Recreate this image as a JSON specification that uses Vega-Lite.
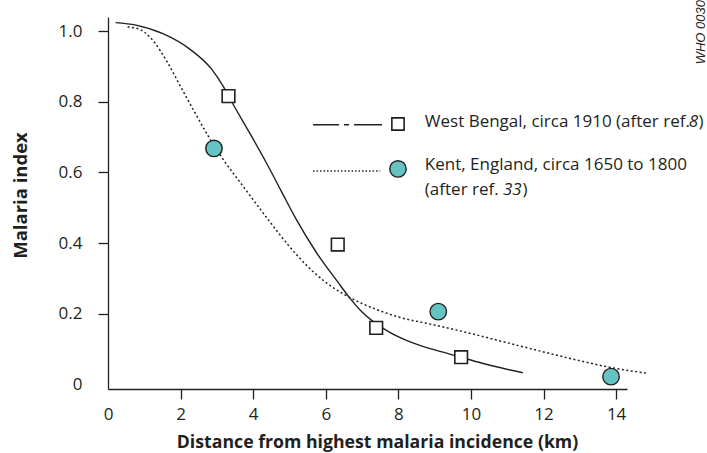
{
  "$schema": "https://vega.github.io/schema/vega-lite/v6.json",
  "autosize": {"type": "none"},
  "padding": {"left": 108, "top": 17, "right": 80, "bottom": 64},
  "width": 519,
  "height": 372,
  "config": {
    "view": {"stroke": null},
    "font": "Open Sans"
  },
  "datasets": {
    "bengalCurve": [
      {"km": 0.21, "index": 1.024}, {"km": 0.77, "index": 1.017}, {"km": 1.53, "index": 0.992},
      {"km": 2.28, "index": 0.947}, {"km": 2.85, "index": 0.893}, {"km": 3.18, "index": 0.843},
      {"km": 3.42, "index": 0.798}, {"km": 3.89, "index": 0.714}, {"km": 4.37, "index": 0.626},
      {"km": 4.77, "index": 0.548}, {"km": 5.16, "index": 0.472}, {"km": 5.75, "index": 0.372},
      {"km": 6.33, "index": 0.29}, {"km": 6.62, "index": 0.25}, {"km": 7.0, "index": 0.205},
      {"km": 7.67, "index": 0.153}, {"km": 8.24, "index": 0.124}, {"km": 8.61, "index": 0.11},
      {"km": 9.2, "index": 0.092}, {"km": 9.73, "index": 0.077}, {"km": 10.42, "index": 0.057},
      {"km": 11.43, "index": 0.033}
    ],
    "kentCurve": [
      {"km": 0.54, "index": 1.012}, {"km": 0.87, "index": 1.005}, {"km": 1.25, "index": 0.972},
      {"km": 1.63, "index": 0.913}, {"km": 2.0, "index": 0.843}, {"km": 2.38, "index": 0.772},
      {"km": 2.75, "index": 0.705}, {"km": 3.22, "index": 0.63}, {"km": 3.7, "index": 0.564},
      {"km": 4.38, "index": 0.471}, {"km": 4.97, "index": 0.394}, {"km": 5.5, "index": 0.334},
      {"km": 6.0, "index": 0.289}, {"km": 6.5, "index": 0.255}, {"km": 7.0, "index": 0.229},
      {"km": 7.5, "index": 0.208}, {"km": 8.0, "index": 0.191}, {"km": 9.0, "index": 0.168},
      {"km": 10.0, "index": 0.144}, {"km": 11.0, "index": 0.118}, {"km": 12.0, "index": 0.092},
      {"km": 13.0, "index": 0.067}, {"km": 14.0, "index": 0.045}, {"km": 14.89, "index": 0.031}
    ],
    "bengalPts": [
      {"km": 3.32, "index": 0.816}, {"km": 6.33, "index": 0.396},
      {"km": 7.39, "index": 0.16}, {"km": 9.73, "index": 0.077}
    ],
    "kentPts": [
      {"km": 2.92, "index": 0.668}, {"km": 9.1, "index": 0.206}, {"km": 13.86, "index": 0.022}
    ]
  },
  "layer": [
    {
      "data": {"name": "bengalCurve"},
      "mark": {"type": "line", "color": "#231f20", "strokeWidth": 1.4, "interpolate": "monotone"},
      "encoding": {
        "x": {
          "field": "km", "type": "quantitative",
          "scale": {"domain": [0, 14.3], "nice": false, "zero": false},
          "axis": {
            "title": "Distance from highest malaria incidence (km)",
            "values": [0, 2, 4, 6, 8, 10, 12, 14],
            "grid": false,
            "domainColor": "#231f20", "domainWidth": 1.3,
            "tickColor": "#231f20", "tickWidth": 1.3, "tickSize": 10,
            "tickOpacity": {"condition": {"test": "datum.value === 0", "value": 0}, "value": 1},
            "labelFont": "Open Sans", "labelFontSize": 17, "labelColor": "#231f20", "labelPadding": 7,
            "labelFlush": false,
            "titleFont": "Open Sans", "titleFontSize": 17.7, "titleFontWeight": "bold", "titleColor": "#231f20",
            "titleX": 269, "titleY": 53, "titleBaseline": "middle", "titleAlign": "center"
          }
        },
        "y": {
          "field": "index", "type": "quantitative",
          "scale": {"domain": [-0.013, 1.04], "nice": false, "zero": false},
          "axis": {
            "title": "Malaria index",
            "values": [0, 0.2, 0.4, 0.6, 0.8, 1.0],
            "labelExpr": "datum.value === 0 ? '0' : format(datum.value, '.1f')",
            "grid": false,
            "domainColor": "#231f20", "domainWidth": 1.3,
            "tickColor": "#231f20", "tickWidth": 1.3, "tickSize": 10,
            "tickOpacity": {"condition": {"test": "datum.value === 0", "value": 0}, "value": 1},
            "labelFont": "Open Sans", "labelFontSize": 17, "labelColor": "#231f20", "labelPadding": 16,
            "labelFlush": false,
            "titleFont": "Open Sans", "titleFontSize": 18.5, "titleFontWeight": "bold", "titleColor": "#231f20",
            "titleX": -88, "titleY": 178, "titleBaseline": "middle", "titleAlign": "center", "titleAngle": -90
          }
        }
      }
    },
    {
      "data": {"name": "kentCurve"},
      "mark": {"type": "line", "color": "#231f20", "strokeWidth": 1.5, "strokeDash": [2, 2.5], "interpolate": "monotone"},
      "encoding": {
        "x": {"field": "km", "type": "quantitative"},
        "y": {"field": "index", "type": "quantitative"}
      }
    },
    {
      "data": {"name": "bengalPts"},
      "mark": {"type": "point", "shape": "square", "size": 160, "filled": true, "fill": "#ffffff", "stroke": "#231f20", "strokeWidth": 1.6, "opacity": 1},
      "encoding": {
        "x": {"field": "km", "type": "quantitative"},
        "y": {"field": "index", "type": "quantitative"}
      }
    },
    {
      "data": {"name": "kentPts"},
      "mark": {"type": "point", "shape": "circle", "size": 270, "filled": true, "fill": "#66c3c3", "stroke": "#231f20", "strokeWidth": 1.4, "opacity": 1},
      "encoding": {
        "x": {"field": "km", "type": "quantitative"},
        "y": {"field": "index", "type": "quantitative"}
      }
    },
    {
      "data": {"values": [{"series": "West Bengal"}]},
      "mark": {"type": "rule", "color": "#231f20", "strokeWidth": 1.4, "strokeDash": [26, 5, 5, 5, 30]},
      "encoding": {
        "x": {"datum": 5.65, "type": "quantitative"},
        "x2": {"datum": 7.55},
        "y": {"datum": 0.735, "type": "quantitative"}
      }
    },
    {
      "data": {"values": [{"series": "West Bengal"}]},
      "mark": {"type": "point", "shape": "square", "size": 150, "filled": true, "fill": "#ffffff", "stroke": "#231f20", "strokeWidth": 1.6, "opacity": 1},
      "encoding": {
        "x": {"datum": 7.99, "type": "quantitative"},
        "y": {"datum": 0.737, "type": "quantitative"}
      }
    },
    {
      "data": {"values": [{"series": "West Bengal"}]},
      "mark": {"type": "text", "text": "West Bengal, circa 1910 (after ref.", "align": "left", "baseline": "middle", "fontSize": 17, "color": "#231f20"},
      "encoding": {
        "x": {"datum": 8.73, "type": "quantitative"},
        "y": {"datum": 0.742, "type": "quantitative"}
      }
    },
    {
      "data": {"values": [{"series": "West Bengal"}]},
      "mark": {"type": "text", "text": "8", "align": "left", "baseline": "middle", "fontSize": 17, "fontStyle": "italic", "color": "#231f20"},
      "encoding": {
        "x": {"datum": 16.0, "type": "quantitative"},
        "y": {"datum": 0.742, "type": "quantitative"}
      }
    },
    {
      "data": {"values": [{"series": "West Bengal"}]},
      "mark": {"type": "text", "text": ")", "align": "left", "baseline": "middle", "fontSize": 17, "color": "#231f20"},
      "encoding": {
        "x": {"datum": 16.27, "type": "quantitative"},
        "y": {"datum": 0.742, "type": "quantitative"}
      }
    },
    {
      "data": {"values": [{"series": "Kent"}]},
      "mark": {"type": "rule", "color": "#231f20", "strokeWidth": 1.4, "strokeDash": [1.5, 2]},
      "encoding": {
        "x": {"datum": 5.65, "type": "quantitative"},
        "x2": {"datum": 7.5},
        "y": {"datum": 0.604, "type": "quantitative"}
      }
    },
    {
      "data": {"values": [{"series": "Kent"}]},
      "mark": {"type": "point", "shape": "circle", "size": 270, "filled": true, "fill": "#66c3c3", "stroke": "#231f20", "strokeWidth": 1.4, "opacity": 1},
      "encoding": {
        "x": {"datum": 7.99, "type": "quantitative"},
        "y": {"datum": 0.61, "type": "quantitative"}
      }
    },
    {
      "data": {"values": [{"series": "Kent"}]},
      "mark": {"type": "text", "text": "Kent, England, circa 1650 to 1800", "align": "left", "baseline": "middle", "fontSize": 17, "color": "#231f20"},
      "encoding": {
        "x": {"datum": 8.73, "type": "quantitative"},
        "y": {"datum": 0.62, "type": "quantitative"}
      }
    },
    {
      "data": {"values": [{"series": "Kent"}]},
      "mark": {"type": "text", "text": "(after ref.", "align": "left", "baseline": "middle", "fontSize": 17, "color": "#231f20"},
      "encoding": {
        "x": {"datum": 8.73, "type": "quantitative"},
        "y": {"datum": 0.55, "type": "quantitative"}
      }
    },
    {
      "data": {"values": [{"series": "Kent"}]},
      "mark": {"type": "text", "text": "33", "align": "left", "baseline": "middle", "fontSize": 17, "fontStyle": "italic", "color": "#231f20"},
      "encoding": {
        "x": {"datum": 10.88, "type": "quantitative"},
        "y": {"datum": 0.55, "type": "quantitative"}
      }
    },
    {
      "data": {"values": [{"series": "Kent"}]},
      "mark": {"type": "text", "text": ")", "align": "left", "baseline": "middle", "fontSize": 17, "color": "#231f20"},
      "encoding": {
        "x": {"datum": 11.42, "type": "quantitative"},
        "y": {"datum": 0.55, "type": "quantitative"}
      }
    },
    {
      "data": {"values": [{"label": "WHO"}]},
      "mark": {"type": "text", "text": "WHO 0030", "align": "left", "baseline": "middle", "angle": 270, "fontSize": 13, "fontStyle": "italic", "font": "Liberation Sans", "color": "#231f20"},
      "encoding": {
        "x": {"datum": 16.34, "type": "quantitative"},
        "y": {"datum": 0.906, "type": "quantitative"}
      }
    }
  ]
}
